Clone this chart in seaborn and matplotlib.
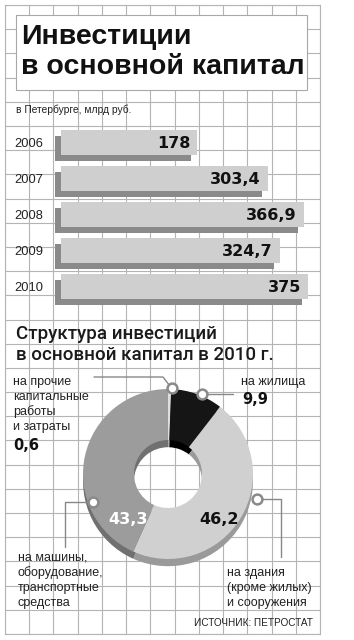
import numpy as np
import pandas as pd
import seaborn as sns
import matplotlib.pyplot as plt
import matplotlib.patheffects as pe
from matplotlib.patches import Rectangle

# =========================
# DATA
# =========================

years = ['2006', '2007', '2008', '2009', '2010']
invest = [178, 303.4, 366.9, 324.7, 375]
invest_labels = ['178', '303,4', '366,9', '324,7', '375']

struct_names = [
    'прочие',
    'жилища',
    'здания',
    'машины',
]
struct_values = [0.6, 9.9, 46.2, 43.3]
struct_labels = ['0,6', '9,9', '46,2', '43,3']

# =========================
# STYLE
# =========================

sns.set_style('white')
plt.rcParams['font.family'] = ['Liberation Sans', 'DejaVu Sans']

W, H = 354, 640
fig = plt.figure(figsize=(W / 100, H / 100), dpi=100)
fig.patch.set_facecolor('white')


def px_axes(x0, y0, x1, y1, z=1):
    a = fig.add_axes([x0 / W, 1 - y1 / H, (x1 - x0) / W, (y1 - y0) / H])
    a.set_zorder(z)
    a.patch.set_alpha(0)
    return a


NUM = dict(family='DejaVu Sans', weight='bold')
GRID_C = '#b4b4b4'
LEAD_C = '#888888'

# =========================
# GRID BACKGROUND
# =========================

ax_grid = px_axes(5, 5, 320, 634, z=0)
ax_grid.set_xlim(0, 13)
ax_grid.set_ylim(26, 0)
ax_grid.set_xticks(range(14))
ax_grid.set_yticks(range(27))
ax_grid.grid(True, color=GRID_C, lw=0.8)
ax_grid.tick_params(length=0, labelbottom=False, labelleft=False)
for s in ax_grid.spines.values():
    s.set_color(GRID_C)
    s.set_linewidth(0.8)

# =========================
# BARS
# =========================

df = pd.DataFrame({'year': years, 'value': invest})

ax_bar = px_axes(55, 124.5, 320, 304.5, z=1)
sns.barplot(data=df, x='value', y='year', orient='h', color='#cfcfcf',
            width=0.71, saturation=1, ax=ax_bar)

# bars start a bit left of zero, like in the paper chart
bar_base = -64
for p in ax_bar.patches:
    p.set_x(bar_base)
    p.set_width(p.get_width() - bar_base)
    p.set_linewidth(0)
    p.set_path_effects([
        pe.SimplePatchShadow(offset=(-4.3, -4.3), shadow_rgbFace='#8a8a8a', alpha=1),
        pe.Normal(),
    ])

for i, (v, lab) in enumerate(zip(invest, invest_labels)):
    ax_bar.annotate(lab, xy=(v, i), xytext=(-5, -1), textcoords='offset points',
                    ha='right', va='center', fontsize=11.5, color='#111111', **NUM)

ax_bar.set_xlim(-74.6, 396.1)
ax_bar.set_xlabel('')
ax_bar.set_ylabel('')
ax_bar.set_xticks([])
ax_bar.tick_params(axis='y', length=0, pad=8.6, labelsize=9.3, labelcolor='#222222')
sns.despine(ax=ax_bar, left=True, bottom=True)

# =========================
# DONUT
# =========================

cx, cy, half = 168, 474, 95
ax_pie = px_axes(cx - half, cy - half, cx + half, cy + half, z=1)

depth = 0.085
side_colors = ['#a8a8a8', '#000000', '#9a9a9a', '#707070']
face_colors = ['#dedede', '#151515', '#d0d0d0', '#9c9c9c']

ax_pie.pie(struct_values, colors=side_colors, startangle=90, counterclock=False,
           center=(0, -depth), wedgeprops=dict(width=0.6, linewidth=0))
ax_pie.pie(struct_values, colors=face_colors, startangle=90, counterclock=False,
           wedgeprops=dict(width=0.6, linewidth=0))
ax_pie.set_xlim(-1.118, 1.118)
ax_pie.set_ylim(-1.118, 1.118)

# =========================
# OVERLAY: TEXTS AND CALLOUTS
# =========================

ax = px_axes(0, 0, W, H, z=3)
ax.set_xlim(0, W)
ax.set_ylim(H, 0)
ax.axis('off')

# title box
ax.add_patch(Rectangle((16, 15), 291, 75, facecolor='white',
                       edgecolor='#a8a8a8', lw=0.8, zorder=1))
ax.text(21, 37, 'Инвестиции', fontsize=20.5, weight='bold', color='#111111',
        va='center', ha='left', zorder=2)
ax.text(21, 67, 'в основной капитал', fontsize=20.5, weight='bold', color='#111111',
        va='center', ha='left', zorder=2)

ax.text(16, 110, 'в Петербурге, млрд руб.', fontsize=7.4,
        color='#222222', va='center')

# structure title
ax.text(16, 334, 'Структура инвестиций', fontsize=13.5, family='Roboto',
        weight='medium', color='#1a1a1a', va='center')
ax.text(16, 355, 'в основной капитал в 2010 г.', fontsize=13.5, family='Roboto',
        weight='medium', color='#1a1a1a', va='center')


def lines_text(x, y0, lines, **kw):
    for k, line in enumerate(lines):
        ax.text(x, y0 + k * 15, line, fontsize=9, color='#222222', va='center', **kw)


lines_text(13, 382, ['на прочие', 'капитальные', 'работы', 'и затраты'])
ax.text(13, 445, struct_labels[0], fontsize=10.5, color='#111111', va='center', **NUM)

lines_text(241, 382, ['на жилища'])
ax.text(242, 400, struct_labels[1], fontsize=10.5, color='#111111', va='center', **NUM)

lines_text(18, 558, ['на машины,', 'оборудование,', 'транспортные', 'средства'])
lines_text(227, 573, ['на здания', '(кроме жилых)', 'и сооружения'])

ax.text(128, 520, struct_labels[3], fontsize=11.5, color='white',
        ha='center', va='center', **NUM)
ax.text(219, 520, struct_labels[2], fontsize=11.5, color='#111111',
        ha='center', va='center', **NUM)

ax.text(313, 623, 'ИСТОЧНИК: ПЕТРОСТАТ', fontsize=7.2,
        color='#222222', ha='right', va='center')

# leader lines
ax.plot([94, 163, 171.7], [377, 377, 388.3], color=LEAD_C, lw=1, zorder=2)
ax.plot([201.7, 233], [394, 394], color=LEAD_C, lw=1, zorder=2)
ax.plot([93.3, 65, 65], [501.7, 501.7, 547], color=LEAD_C, lw=1, zorder=2)
ax.plot([257.3, 281, 281], [499.3, 499.3, 557], color=LEAD_C, lw=1, zorder=2)

ax.scatter([171.7, 201.7, 93.3, 257.3], [388.3, 394, 501.7, 499.3], s=50,
           facecolor='white', edgecolor='#8a8a8a', linewidth=1.8, zorder=4)

fig.savefig('out.png', dpi=100)
